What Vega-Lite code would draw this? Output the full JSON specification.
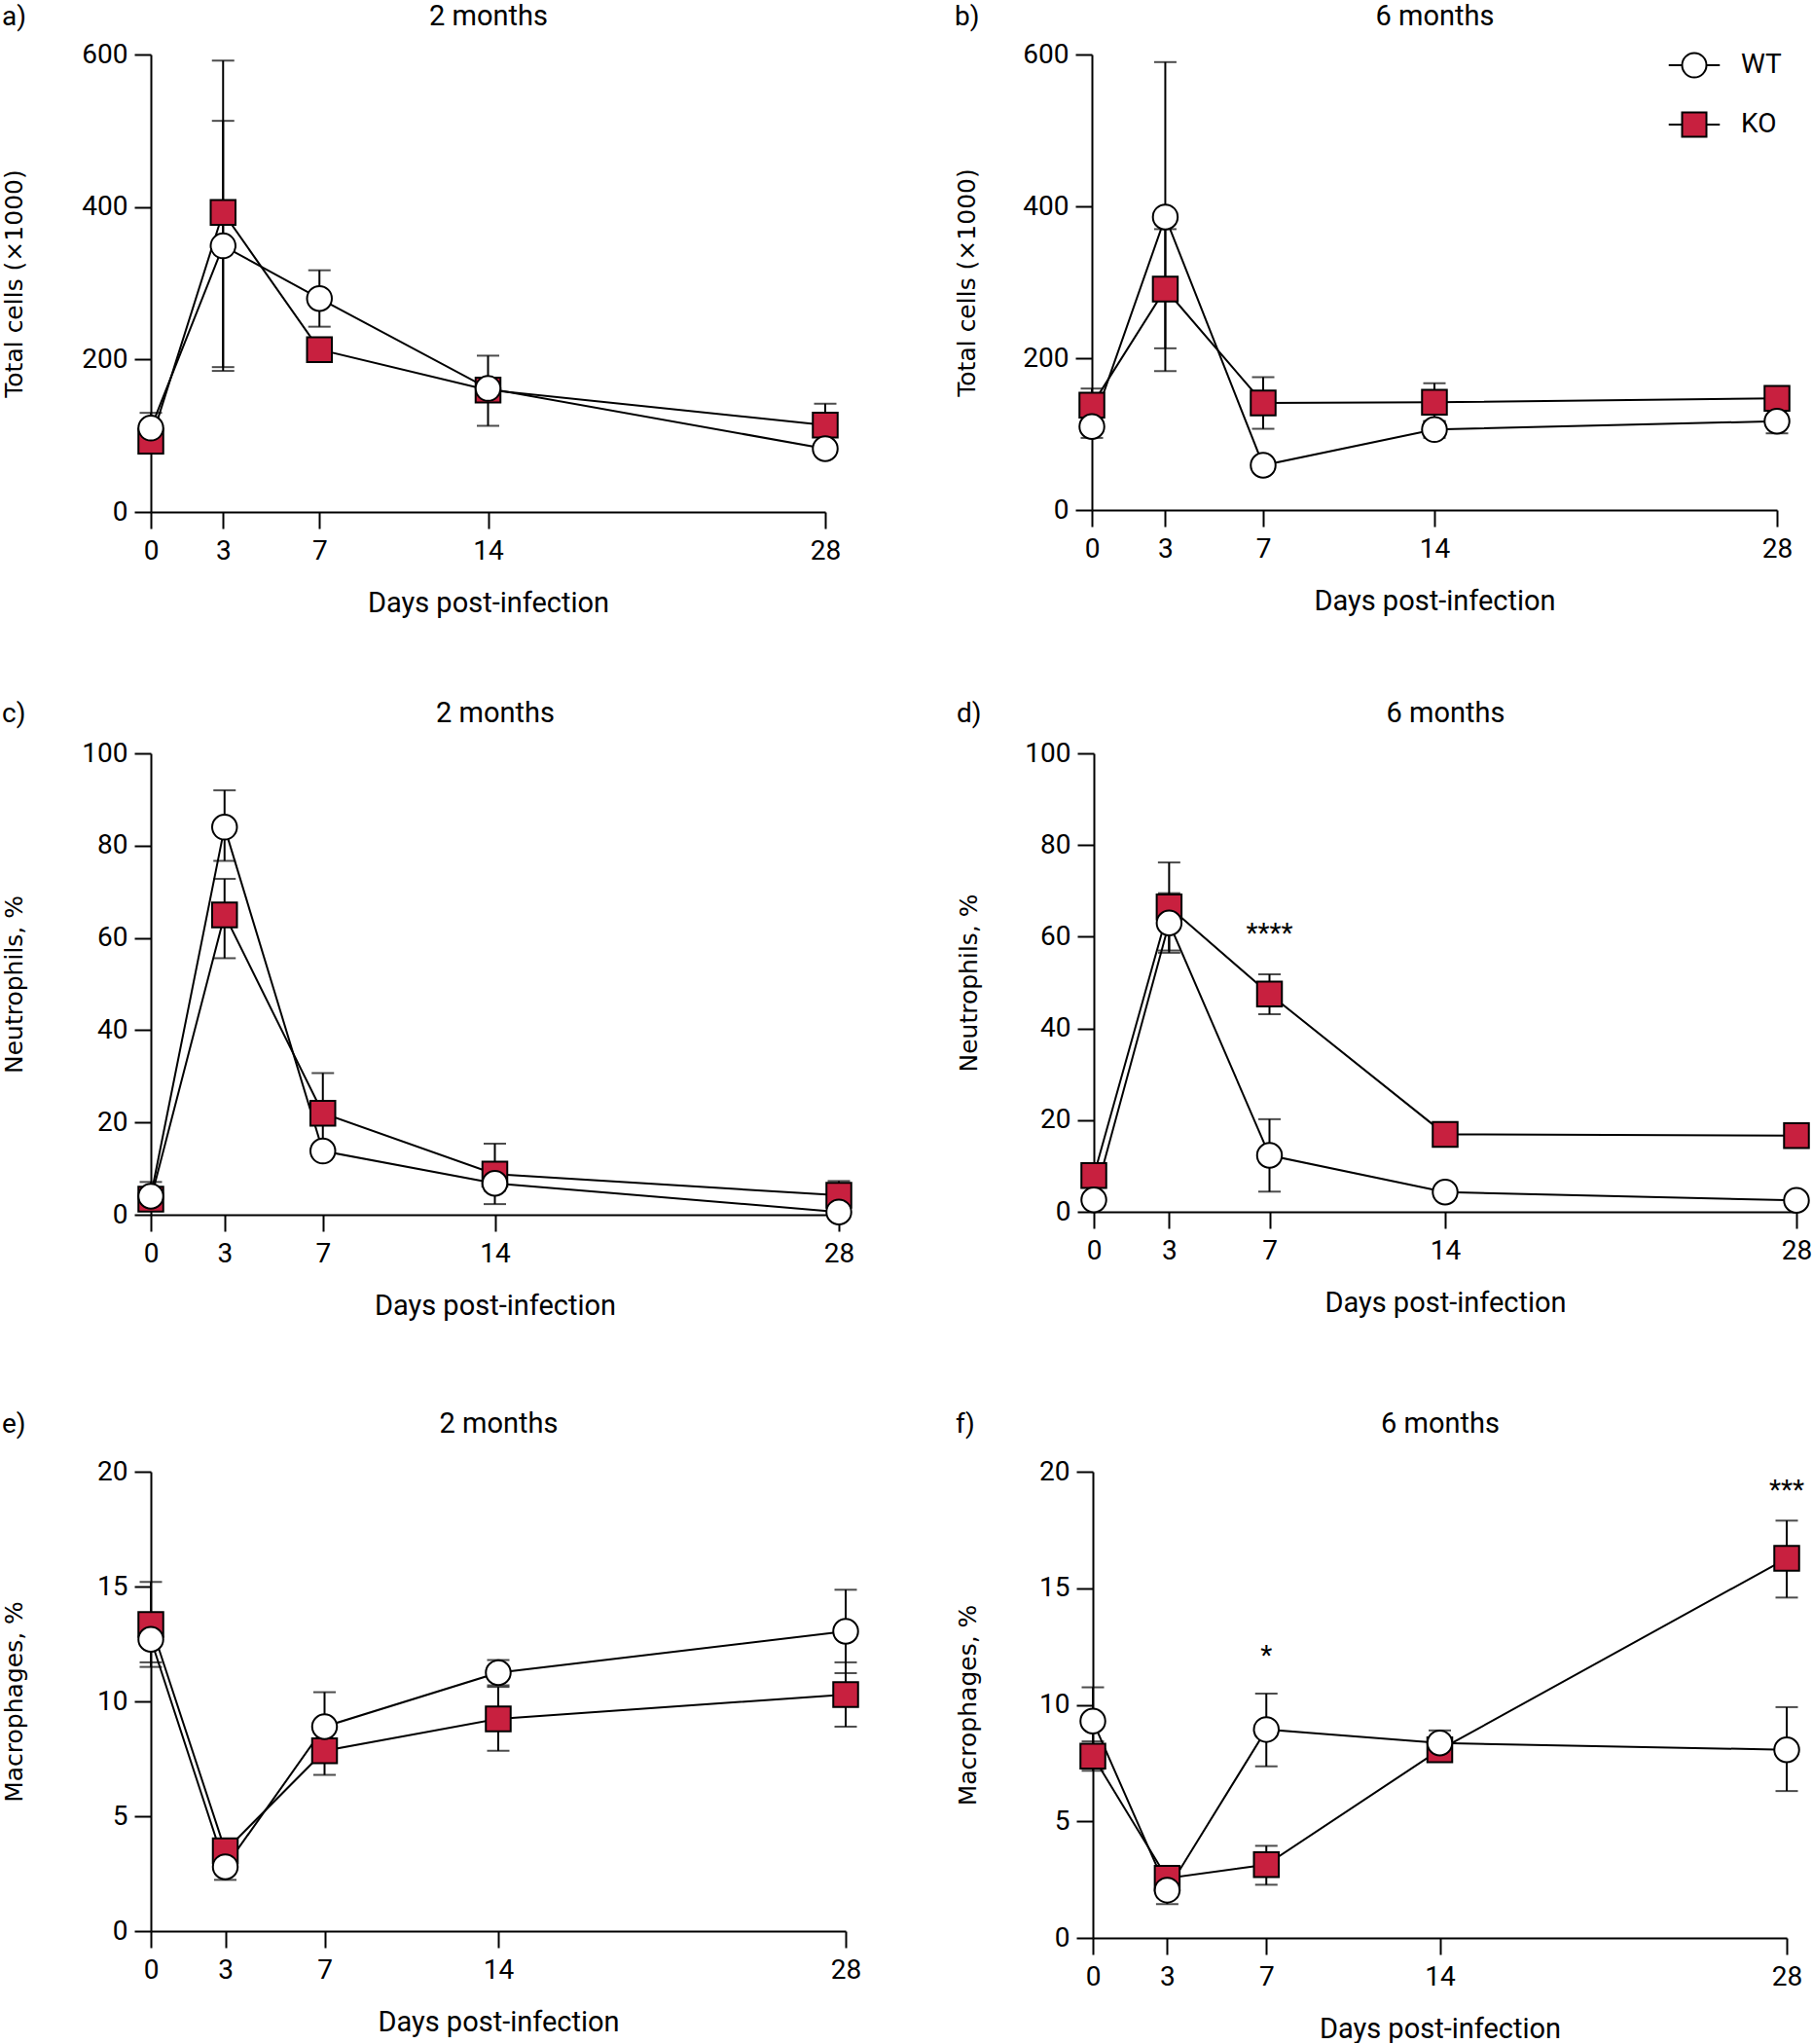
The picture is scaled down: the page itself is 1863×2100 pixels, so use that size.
{
  "$schema": "https://vega.github.io/schema/vega-lite/v6.json",
  "padding": {"left": 2, "top": 2, "right": 0, "bottom": 0},
  "background": "white",
  "config": {
    "view": {"stroke": null},
    "font": "Roboto",
    "axis": {
      "grid": false,
      "domainColor": "black",
      "domainWidth": 2,
      "tickColor": "black",
      "tickWidth": 2,
      "tickSize": 17,
      "labelFont": "Roboto",
      "labelFontSize": 28,
      "labelColor": "black",
      "titleColor": "black",
      "titleFontWeight": "normal"
    },
    "axisX": {"labelPadding": 9, "titlePadding": 25, "titleFont": "Roboto", "titleFontSize": 29, "labelFlush": false},
    "axisY": {"labelPadding": 7, "titleFont": "DejaVu Sans", "titleFontSize": 25, "minExtent": 70, "maxExtent": 70},
    "title": {"font": "Roboto", "fontSize": 28, "fontWeight": "normal", "color": "black", "anchor": "start", "frame": "bounds", "offset": -30},
    "tick": {"thickness": 2}
  },
  "datasets": {
    "pts": [
      {"panel": "a", "group": "WT", "day": 0, "mean": 110, "lo": 90, "hi": 130},
      {"panel": "a", "group": "WT", "day": 3, "mean": 349, "lo": 185, "hi": 513},
      {"panel": "a", "group": "WT", "day": 7, "mean": 280, "lo": 243, "hi": 317},
      {"panel": "a", "group": "WT", "day": 14, "mean": 162, "lo": 150, "hi": 174},
      {"panel": "a", "group": "WT", "day": 28, "mean": 83, "lo": 76, "hi": 90},
      {"panel": "a", "group": "KO", "day": 0, "mean": 93, "lo": 85, "hi": 101},
      {"panel": "a", "group": "KO", "day": 3, "mean": 393, "lo": 190, "hi": 592},
      {"panel": "a", "group": "KO", "day": 7, "mean": 213, "lo": 204, "hi": 222},
      {"panel": "a", "group": "KO", "day": 14, "mean": 160, "lo": 113, "hi": 205},
      {"panel": "a", "group": "KO", "day": 28, "mean": 114, "lo": 86, "hi": 142},
      {"panel": "b", "group": "WT", "day": 0, "mean": 110, "lo": 95, "hi": 125},
      {"panel": "b", "group": "WT", "day": 3, "mean": 386, "lo": 183, "hi": 590},
      {"panel": "b", "group": "WT", "day": 7, "mean": 59, "lo": 53, "hi": 65},
      {"panel": "b", "group": "WT", "day": 14, "mean": 106, "lo": 95, "hi": 117},
      {"panel": "b", "group": "WT", "day": 28, "mean": 117, "lo": 101, "hi": 133},
      {"panel": "b", "group": "KO", "day": 0, "mean": 138, "lo": 116, "hi": 160},
      {"panel": "b", "group": "KO", "day": 3, "mean": 291, "lo": 213, "hi": 370},
      {"panel": "b", "group": "KO", "day": 7, "mean": 141, "lo": 107, "hi": 175},
      {"panel": "b", "group": "KO", "day": 14, "mean": 142, "lo": 117, "hi": 167},
      {"panel": "b", "group": "KO", "day": 28, "mean": 147, "lo": 141, "hi": 153},
      {"panel": "c", "group": "WT", "day": 0, "mean": 4, "lo": 1, "hi": 7.1},
      {"panel": "c", "group": "WT", "day": 3, "mean": 84, "lo": 76.7, "hi": 92},
      {"panel": "c", "group": "WT", "day": 7, "mean": 13.8, "lo": 12.6, "hi": 15},
      {"panel": "c", "group": "WT", "day": 14, "mean": 6.8, "lo": 5.2, "hi": 8.4},
      {"panel": "c", "group": "WT", "day": 28, "mean": 0.6, "lo": 0, "hi": 1.2},
      {"panel": "c", "group": "KO", "day": 0, "mean": 3.4, "lo": 2, "hi": 4.8},
      {"panel": "c", "group": "KO", "day": 3, "mean": 65, "lo": 55.6, "hi": 72.8},
      {"panel": "c", "group": "KO", "day": 7, "mean": 22, "lo": 13.2, "hi": 30.7},
      {"panel": "c", "group": "KO", "day": 14, "mean": 8.8, "lo": 2.3, "hi": 15.4},
      {"panel": "c", "group": "KO", "day": 28, "mean": 4.2, "lo": 1.1, "hi": 7.3},
      {"panel": "d", "group": "WT", "day": 0, "mean": 2.6, "lo": 1.6, "hi": 3.6},
      {"panel": "d", "group": "WT", "day": 3, "mean": 63, "lo": 56.5, "hi": 69.5},
      {"panel": "d", "group": "WT", "day": 7, "mean": 12.3, "lo": 4.4, "hi": 20.2},
      {"panel": "d", "group": "WT", "day": 14, "mean": 4.3, "lo": 3.5, "hi": 5.1},
      {"panel": "d", "group": "WT", "day": 28, "mean": 2.5, "lo": 1.9, "hi": 3.1},
      {"panel": "d", "group": "KO", "day": 0, "mean": 7.9, "lo": 6.7, "hi": 9.1},
      {"panel": "d", "group": "KO", "day": 3, "mean": 66.5, "lo": 57, "hi": 76.2},
      {"panel": "d", "group": "KO", "day": 7, "mean": 47.5, "lo": 43.1, "hi": 51.8},
      {"panel": "d", "group": "KO", "day": 14, "mean": 16.9, "lo": 15.9, "hi": 17.9},
      {"panel": "d", "group": "KO", "day": 28, "mean": 16.6, "lo": 15.6, "hi": 17.6},
      {"panel": "e", "group": "WT", "day": 0, "mean": 12.7, "lo": 11.7, "hi": 13.76},
      {"panel": "e", "group": "WT", "day": 3, "mean": 2.8, "lo": 2.23, "hi": 3.37},
      {"panel": "e", "group": "WT", "day": 7, "mean": 8.9, "lo": 7.4, "hi": 10.4},
      {"panel": "e", "group": "WT", "day": 14, "mean": 11.25, "lo": 10.7, "hi": 11.8},
      {"panel": "e", "group": "WT", "day": 28, "mean": 13.05, "lo": 11.23, "hi": 14.86},
      {"panel": "e", "group": "KO", "day": 0, "mean": 13.35, "lo": 11.5, "hi": 15.2},
      {"panel": "e", "group": "KO", "day": 3, "mean": 3.5, "lo": 3.0, "hi": 4.0},
      {"panel": "e", "group": "KO", "day": 7, "mean": 7.85, "lo": 6.8, "hi": 8.9},
      {"panel": "e", "group": "KO", "day": 14, "mean": 9.24, "lo": 7.85, "hi": 10.63},
      {"panel": "e", "group": "KO", "day": 28, "mean": 10.3, "lo": 8.9, "hi": 11.7},
      {"panel": "f", "group": "WT", "day": 0, "mean": 9.3, "lo": 7.85, "hi": 10.75},
      {"panel": "f", "group": "WT", "day": 3, "mean": 2.05, "lo": 1.45, "hi": 2.65},
      {"panel": "f", "group": "WT", "day": 7, "mean": 8.94, "lo": 7.36, "hi": 10.48},
      {"panel": "f", "group": "WT", "day": 14, "mean": 8.36, "lo": 7.82, "hi": 8.9},
      {"panel": "f", "group": "WT", "day": 28, "mean": 8.07, "lo": 6.3, "hi": 9.9},
      {"panel": "f", "group": "KO", "day": 0, "mean": 7.8, "lo": 7.17, "hi": 8.43},
      {"panel": "f", "group": "KO", "day": 3, "mean": 2.56, "lo": 2.2, "hi": 2.92},
      {"panel": "f", "group": "KO", "day": 7, "mean": 3.14, "lo": 2.28, "hi": 3.95},
      {"panel": "f", "group": "KO", "day": 14, "mean": 8.07, "lo": 7.7, "hi": 8.45},
      {"panel": "f", "group": "KO", "day": 28, "mean": 16.28, "lo": 14.6, "hi": 17.9}
    ],
    "stars": [
      {"panel": "d", "day": 7, "value": 61.8, "label": "****"},
      {"panel": "f", "day": 7, "value": 12.3, "label": "*"},
      {"panel": "f", "day": 28, "value": 19.4, "label": "***"}
    ]
  },
  "spacing": 84,
  "vconcat": [
    {
      "spacing": 116,
      "hconcat": [
        {
          "width": 693, "height": 470,
          "title": {"text": "a)"},
          "data": {"name": "pts"},
          "transform": [{"filter": "datum.panel === 'a'"}],
          "resolve": {"axis": {"x": "independent"}},
          "layer": [
            {"mark": {"type": "line", "color": "black", "strokeWidth": 2},
             "encoding": {
               "x": {"field": "day", "type": "quantitative", "scale": {"domain": [0, 28], "nice": false, "zero": false},
                     "axis": {"orient": "top", "title": "2 months", "domain": false, "ticks": false, "labels": false, "titlePadding": 25, "minExtent": 0, "maxExtent": 0}},
               "y": {"field": "mean", "type": "quantitative", "scale": {"domain": [0, 600], "nice": false}, "axis": {"values": [0, 200, 400, 600], "title": "Total cells (×1000)", "titlePadding": 58}},
               "detail": {"field": "group"}}},
            {"mark": {"type": "rule", "color": "black", "strokeWidth": 2},
             "encoding": {"x": {"field": "day", "type": "quantitative", "axis": null}, "y": {"field": "lo", "type": "quantitative"}, "y2": {"field": "hi"}}},
            {"mark": {"type": "tick", "orient": "horizontal", "size": 23, "thickness": 2, "color": "black"},
             "encoding": {"x": {"field": "day", "type": "quantitative", "axis": null}, "y": {"field": "lo", "type": "quantitative"}}},
            {"mark": {"type": "tick", "orient": "horizontal", "size": 23, "thickness": 2, "color": "black"},
             "encoding": {"x": {"field": "day", "type": "quantitative", "axis": null}, "y": {"field": "hi", "type": "quantitative"}}},
            {"mark": {"type": "point", "filled": true, "size": 650, "stroke": "black", "strokeWidth": 2, "opacity": 1},
             "encoding": {
               "x": {"field": "day", "type": "quantitative", "axis": {"values": [0, 3, 7, 14, 28], "title": "Days post-infection"}},
               "y": {"field": "mean", "type": "quantitative"},
               "shape": {"field": "group", "scale": {"domain": ["WT", "KO"], "range": ["circle", "square"]}, "legend": null},
               "fill": {"field": "group", "scale": {"domain": ["WT", "KO"], "range": ["white", "#C8203F"]}, "legend": null},
               "order": {"field": "group", "sort": "ascending"}}}
          ]
        },
        {
          "width": 704, "height": 468,
          "title": {"text": "b)"},
          "data": {"name": "pts"},
          "transform": [{"filter": "datum.panel === 'b'"}],
          "resolve": {"axis": {"x": "independent"}, "scale": {"shape": "independent", "fill": "independent"}},
          "layer": [
            {"mark": {"type": "line", "color": "black", "strokeWidth": 2},
             "encoding": {
               "x": {"field": "day", "type": "quantitative", "scale": {"domain": [0, 28], "nice": false, "zero": false},
                     "axis": {"orient": "top", "title": "6 months", "domain": false, "ticks": false, "labels": false, "titlePadding": 25, "minExtent": 0, "maxExtent": 0}},
               "y": {"field": "mean", "type": "quantitative", "scale": {"domain": [0, 600], "nice": false}, "axis": {"values": [0, 200, 400, 600], "title": "Total cells (×1000)", "titlePadding": 46}},
               "detail": {"field": "group"}}},
            {"mark": {"type": "rule", "color": "black", "strokeWidth": 2},
             "encoding": {"x": {"field": "day", "type": "quantitative", "axis": null}, "y": {"field": "lo", "type": "quantitative"}, "y2": {"field": "hi"}}},
            {"mark": {"type": "tick", "orient": "horizontal", "size": 23, "thickness": 2, "color": "black"},
             "encoding": {"x": {"field": "day", "type": "quantitative", "axis": null}, "y": {"field": "lo", "type": "quantitative"}}},
            {"mark": {"type": "tick", "orient": "horizontal", "size": 23, "thickness": 2, "color": "black"},
             "encoding": {"x": {"field": "day", "type": "quantitative", "axis": null}, "y": {"field": "hi", "type": "quantitative"}}},
            {"mark": {"type": "point", "filled": true, "size": 650, "stroke": "black", "strokeWidth": 2, "opacity": 1},
             "encoding": {
               "x": {"field": "day", "type": "quantitative", "axis": {"values": [0, 3, 7, 14, 28], "title": "Days post-infection"}},
               "y": {"field": "mean", "type": "quantitative"},
               "shape": {"field": "group", "scale": {"domain": ["WT", "KO"], "range": ["circle", "square"]}, "legend": null},
               "fill": {"field": "group", "scale": {"domain": ["WT", "KO"], "range": ["white", "#C8203F"]}, "legend": null},
               "order": {"field": "group", "sort": "ascending"}}},
            {"mark": {"type": "point", "filled": true, "opacity": 0, "stroke": "black"},
             "encoding": {
               "x": {"field": "day", "type": "quantitative", "axis": null},
               "y": {"field": "mean", "type": "quantitative"},
               "shape": {"field": "group", "scale": {"domain": ["WT", "KO"], "range": ["M-2.1,0H-1M1,0H2.1M1,0A1,1,0,1,1,-1,0A1,1,0,1,1,1,0Z", "M-2.1,0H-1M1,0H2.1M-1,-1H1V1H-1Z"]},
                         "legend": {"title": null, "orient": "none", "legendX": 605, "legendY": -3, "symbolSize": 625, "symbolStrokeWidth": 2, "symbolStrokeColor": "black", "symbolOpacity": 1, "labelFont": "Roboto", "labelFontSize": 28, "labelColor": "black", "labelOffset": 34, "rowPadding": 27, "padding": 0,
                                    "encode": {"symbols": {"update": {"stroke": {"value": "black"}, "strokeWidth": {"value": 2}, "opacity": {"value": 1}}}}}},
               "fill": {"field": "group", "scale": {"domain": ["WT", "KO"], "range": ["white", "#C8203F"]},
                         "legend": {"title": null, "orient": "none", "legendX": 605, "legendY": -3, "symbolSize": 625, "symbolStrokeWidth": 2, "symbolStrokeColor": "black", "symbolOpacity": 1, "labelFont": "Roboto", "labelFontSize": 28, "labelColor": "black", "labelOffset": 34, "rowPadding": 27, "padding": 0,
                                    "encode": {"symbols": {"update": {"stroke": {"value": "black"}, "strokeWidth": {"value": 2}, "opacity": {"value": 1}}}}}}}}
          ]
        }
      ]
    },
    {
      "spacing": 92,
      "vconcat": [
        {
          "spacing": 104,
          "hconcat": [
            {
              "width": 707, "height": 474,
              "title": {"text": "c)"},
              "data": {"name": "pts"},
              "transform": [{"filter": "datum.panel === 'c'"}],
              "resolve": {"axis": {"x": "independent"}},
              "layer": [
                {"mark": {"type": "line", "color": "black", "strokeWidth": 2},
                 "encoding": {
                   "x": {"field": "day", "type": "quantitative", "scale": {"domain": [0, 28], "nice": false, "zero": false},
                         "axis": {"orient": "top", "title": "2 months", "domain": false, "ticks": false, "labels": false, "titlePadding": 27, "minExtent": 0, "maxExtent": 0}},
                   "y": {"field": "mean", "type": "quantitative", "scale": {"domain": [0, 100], "nice": false}, "axis": {"values": [0, 20, 40, 60, 80, 100], "title": "Neutrophils, %", "titlePadding": 58}},
                   "detail": {"field": "group"}}},
                {"mark": {"type": "rule", "color": "black", "strokeWidth": 2},
                 "encoding": {"x": {"field": "day", "type": "quantitative", "axis": null}, "y": {"field": "lo", "type": "quantitative"}, "y2": {"field": "hi"}}},
                {"mark": {"type": "tick", "orient": "horizontal", "size": 23, "thickness": 2, "color": "black"},
                 "encoding": {"x": {"field": "day", "type": "quantitative", "axis": null}, "y": {"field": "lo", "type": "quantitative"}}},
                {"mark": {"type": "tick", "orient": "horizontal", "size": 23, "thickness": 2, "color": "black"},
                 "encoding": {"x": {"field": "day", "type": "quantitative", "axis": null}, "y": {"field": "hi", "type": "quantitative"}}},
                {"mark": {"type": "point", "filled": true, "size": 650, "stroke": "black", "strokeWidth": 2, "opacity": 1},
                 "encoding": {
                   "x": {"field": "day", "type": "quantitative", "axis": {"values": [0, 3, 7, 14, 28], "title": "Days post-infection"}},
                   "y": {"field": "mean", "type": "quantitative"},
                   "shape": {"field": "group", "scale": {"domain": ["WT", "KO"], "range": ["circle", "square"]}, "legend": null},
                   "fill": {"field": "group", "scale": {"domain": ["WT", "KO"], "range": ["white", "#C8203F"]}, "legend": null},
                   "order": {"field": "group", "sort": "ascending"}}}
              ]
            },
            {
              "width": 722, "height": 471,
              "title": {"text": "d)"},
              "data": {"name": "pts"},
              "transform": [{"filter": "datum.panel === 'd'"}],
              "resolve": {"axis": {"x": "independent"}},
              "layer": [
                {"mark": {"type": "line", "color": "black", "strokeWidth": 2},
                 "encoding": {
                   "x": {"field": "day", "type": "quantitative", "scale": {"domain": [0, 28], "nice": false, "zero": false},
                         "axis": {"orient": "top", "title": "6 months", "domain": false, "ticks": false, "labels": false, "titlePadding": 27, "minExtent": 0, "maxExtent": 0}},
                   "y": {"field": "mean", "type": "quantitative", "scale": {"domain": [0, 100], "nice": false}, "axis": {"values": [0, 20, 40, 60, 80, 100], "title": "Neutrophils, %", "titlePadding": 46}},
                   "detail": {"field": "group"}}},
                {"mark": {"type": "rule", "color": "black", "strokeWidth": 2},
                 "encoding": {"x": {"field": "day", "type": "quantitative", "axis": null}, "y": {"field": "lo", "type": "quantitative"}, "y2": {"field": "hi"}}},
                {"mark": {"type": "tick", "orient": "horizontal", "size": 23, "thickness": 2, "color": "black"},
                 "encoding": {"x": {"field": "day", "type": "quantitative", "axis": null}, "y": {"field": "lo", "type": "quantitative"}}},
                {"mark": {"type": "tick", "orient": "horizontal", "size": 23, "thickness": 2, "color": "black"},
                 "encoding": {"x": {"field": "day", "type": "quantitative", "axis": null}, "y": {"field": "hi", "type": "quantitative"}}},
                {"mark": {"type": "point", "filled": true, "size": 650, "stroke": "black", "strokeWidth": 2, "opacity": 1},
                 "encoding": {
                   "x": {"field": "day", "type": "quantitative", "axis": {"values": [0, 3, 7, 14, 28], "title": "Days post-infection"}},
                   "y": {"field": "mean", "type": "quantitative"},
                   "shape": {"field": "group", "scale": {"domain": ["WT", "KO"], "range": ["circle", "square"]}, "legend": null},
                   "fill": {"field": "group", "scale": {"domain": ["WT", "KO"], "range": ["white", "#C8203F"]}, "legend": null},
                   "order": {"field": "group", "sort": "ascending"}}},
                {"data": {"name": "stars"},
                 "transform": [{"filter": "datum.panel === 'd'"}],
                 "mark": {"type": "text", "font": "Roboto", "fontSize": 28, "color": "black", "baseline": "middle", "dy": 6},
                 "encoding": {"x": {"field": "day", "type": "quantitative", "axis": null}, "y": {"field": "value", "type": "quantitative"}, "text": {"field": "label"}}}
              ]
            }
          ]
        },
        {
          "spacing": 96,
          "hconcat": [
            {
              "width": 714, "height": 472,
              "title": {"text": "e)"},
              "data": {"name": "pts"},
              "transform": [{"filter": "datum.panel === 'e'"}],
              "resolve": {"axis": {"x": "independent"}},
              "layer": [
                {"mark": {"type": "line", "color": "black", "strokeWidth": 2},
                 "encoding": {
                   "x": {"field": "day", "type": "quantitative", "scale": {"domain": [0, 28], "nice": false, "zero": false},
                         "axis": {"orient": "top", "title": "2 months", "domain": false, "ticks": false, "labels": false, "titlePadding": 35, "minExtent": 0, "maxExtent": 0}},
                   "y": {"field": "mean", "type": "quantitative", "scale": {"domain": [0, 20], "nice": false}, "axis": {"values": [0, 5, 10, 15, 20], "title": "Macrophages, %", "titlePadding": 58}},
                   "detail": {"field": "group"}}},
                {"mark": {"type": "rule", "color": "black", "strokeWidth": 2},
                 "encoding": {"x": {"field": "day", "type": "quantitative", "axis": null}, "y": {"field": "lo", "type": "quantitative"}, "y2": {"field": "hi"}}},
                {"mark": {"type": "tick", "orient": "horizontal", "size": 23, "thickness": 2, "color": "black"},
                 "encoding": {"x": {"field": "day", "type": "quantitative", "axis": null}, "y": {"field": "lo", "type": "quantitative"}}},
                {"mark": {"type": "tick", "orient": "horizontal", "size": 23, "thickness": 2, "color": "black"},
                 "encoding": {"x": {"field": "day", "type": "quantitative", "axis": null}, "y": {"field": "hi", "type": "quantitative"}}},
                {"mark": {"type": "point", "filled": true, "size": 650, "stroke": "black", "strokeWidth": 2, "opacity": 1},
                 "encoding": {
                   "x": {"field": "day", "type": "quantitative", "axis": {"values": [0, 3, 7, 14, 28], "title": "Days post-infection"}},
                   "y": {"field": "mean", "type": "quantitative"},
                   "shape": {"field": "group", "scale": {"domain": ["WT", "KO"], "range": ["circle", "square"]}, "legend": null},
                   "fill": {"field": "group", "scale": {"domain": ["WT", "KO"], "range": ["white", "#C8203F"]}, "legend": null},
                   "order": {"field": "group", "sort": "ascending"}}}
              ]
            },
            {
              "width": 713, "height": 479,
              "title": {"text": "f)"},
              "data": {"name": "pts"},
              "transform": [{"filter": "datum.panel === 'f'"}],
              "resolve": {"axis": {"x": "independent"}},
              "layer": [
                {"mark": {"type": "line", "color": "black", "strokeWidth": 2},
                 "encoding": {
                   "x": {"field": "day", "type": "quantitative", "scale": {"domain": [0, 28], "nice": false, "zero": false},
                         "axis": {"orient": "top", "title": "6 months", "domain": false, "ticks": false, "labels": false, "titlePadding": 35, "minExtent": 0, "maxExtent": 0}},
                   "y": {"field": "mean", "type": "quantitative", "scale": {"domain": [0, 20], "nice": false}, "axis": {"values": [0, 5, 10, 15, 20], "title": "Macrophages, %", "titlePadding": 46}},
                   "detail": {"field": "group"}}},
                {"mark": {"type": "rule", "color": "black", "strokeWidth": 2},
                 "encoding": {"x": {"field": "day", "type": "quantitative", "axis": null}, "y": {"field": "lo", "type": "quantitative"}, "y2": {"field": "hi"}}},
                {"mark": {"type": "tick", "orient": "horizontal", "size": 23, "thickness": 2, "color": "black"},
                 "encoding": {"x": {"field": "day", "type": "quantitative", "axis": null}, "y": {"field": "lo", "type": "quantitative"}}},
                {"mark": {"type": "tick", "orient": "horizontal", "size": 23, "thickness": 2, "color": "black"},
                 "encoding": {"x": {"field": "day", "type": "quantitative", "axis": null}, "y": {"field": "hi", "type": "quantitative"}}},
                {"mark": {"type": "point", "filled": true, "size": 650, "stroke": "black", "strokeWidth": 2, "opacity": 1},
                 "encoding": {
                   "x": {"field": "day", "type": "quantitative", "axis": {"values": [0, 3, 7, 14, 28], "title": "Days post-infection"}},
                   "y": {"field": "mean", "type": "quantitative"},
                   "shape": {"field": "group", "scale": {"domain": ["WT", "KO"], "range": ["circle", "square"]}, "legend": null},
                   "fill": {"field": "group", "scale": {"domain": ["WT", "KO"], "range": ["white", "#C8203F"]}, "legend": null},
                   "order": {"field": "group", "sort": "ascending"}}},
                {"data": {"name": "stars"},
                 "transform": [{"filter": "datum.panel === 'f'"}],
                 "mark": {"type": "text", "font": "Roboto", "fontSize": 28, "color": "black", "baseline": "middle", "dy": 6},
                 "encoding": {"x": {"field": "day", "type": "quantitative", "axis": null}, "y": {"field": "value", "type": "quantitative"}, "text": {"field": "label"}}}
              ]
            }
          ]
        }
      ]
    }
  ]
}
